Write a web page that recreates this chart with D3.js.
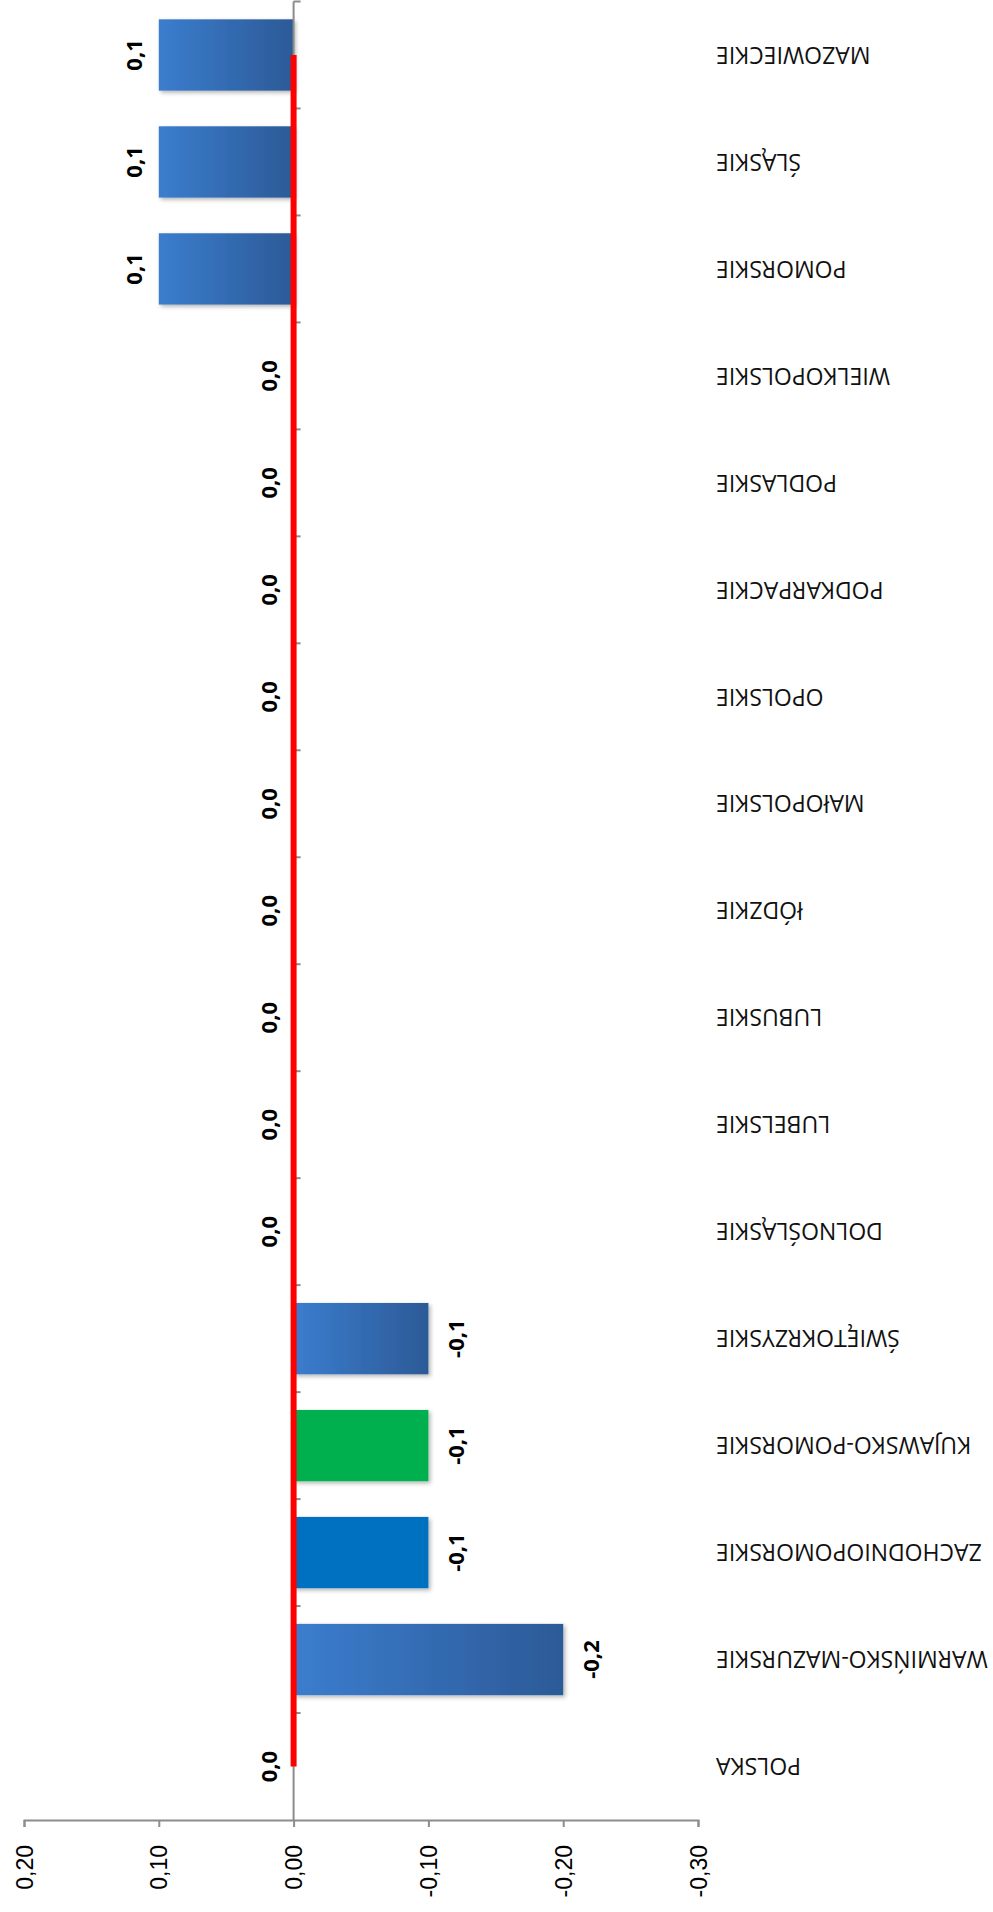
<!DOCTYPE html>
<html>
<head>
<meta charset="utf-8">
<script src="https://cdn.jsdelivr.net/npm/d3@7"></script>
<style>
  html, body { margin: 0; padding: 0; background: #fff; }
  svg { display: block; }
</style>
</head>
<body>
<script>
// ---- data ----
const categories = ["POLSKA","WARMIŃSKO-MAZURSKIE","ZACHODNIOPOMORSKIE","KUJAWSKO-POMORSKIE","ŚWIĘTOKRZYSKIE","DOLNOŚLĄSKIE","LUBELSKIE","LUBUSKIE","łÓDZKIE","MAłOPOLSKIE","OPOLSKIE","PODKARPACKIE","PODLASKIE","WIELKOPOLSKIE","POMORSKIE","ŚLĄSKIE","MAZOWIECKIE"];
const values = [0.0, -0.2, -0.1, -0.1, -0.1, 0.0, 0.0, 0.0, 0.0, 0.0, 0.0, 0.0, 0.0, 0.0, 0.1, 0.1, 0.1];
const polskaLine = [0,0,0,0,0,0,0,0,0,0,0,0,0,0,0,0,0];
const tickValues = [0.20, 0.10, 0.00, -0.10, -0.20, -0.30];

// ---- style ----
const W = 993, H = 1912;
const solidFill = { "ZACHODNIOPOMORSKIE": "#0070C0", "KUJAWSKO-POMORSKIE": "#00B050" };
const axisColor = "#8c8c8c";

const locale = d3.formatLocale({decimal: ",", thousands: " ", grouping: [3], currency: ["", ""], minus: "-"});
const fmtTick = locale.format(".2f");
const fmtLabel = locale.format(".1f");

const svg = d3.select("body").append("svg").attr("width", W).attr("height", H);
const defs = svg.append("defs");
const grad = defs.append("linearGradient").attr("id", "barGrad").attr("x1", "0").attr("x2", "1").attr("y1", "0").attr("y2", "0");
grad.append("stop").attr("offset", "0%").attr("stop-color", "#3B7DCE");
grad.append("stop").attr("offset", "100%").attr("stop-color", "#2C5A97");
const filt = defs.append("filter").attr("id", "shadow").attr("x", "-10%").attr("y", "-20%").attr("width", "120%").attr("height", "140%");
filt.append("feDropShadow").attr("dx", 2).attr("dy", 2).attr("stdDeviation", 2).attr("flood-color", "#000").attr("flood-opacity", 0.3);

const x = d3.scaleLinear().domain([0.2, -0.3]).range([24, 698]);
const y = d3.scaleBand().domain(categories).range([1820, 1.5]).paddingInner(1/3).paddingOuter(1/6);
const yb = d3.scaleBand().domain(categories).range([1820, 1.5]); // full bands for ticks/labels
const axisY = 1820;

const data = categories.map((c, i) => ({cat: c, v: values[i], line: polskaLine[i]}));

// bars
svg.append("g").selectAll("rect").data(data.filter(d => d.v !== 0)).join("rect")
  .attr("x", d => Math.min(x(d.v), x(0)))
  .attr("y", d => y(d.cat))
  .attr("width", d => Math.abs(x(d.v) - x(0)))
  .attr("height", y.bandwidth())
  .attr("fill", d => solidFill[d.cat] || "url(#barGrad)")
  .attr("filter", "url(#shadow)");

// value axis (bottom)
const xAxis = d3.axisBottom(x).tickValues(tickValues).tickFormat(fmtTick).tickSize(7).tickSizeOuter(7);
const gx = svg.append("g").attr("transform", `translate(0,${axisY})`).call(xAxis);
gx.select(".domain").attr("stroke", axisColor).attr("stroke-width", 2);
gx.selectAll(".tick line").attr("stroke", axisColor).attr("stroke-width", 2);
gx.selectAll(".tick text")
  .attr("x", null).attr("y", null).attr("dy", null)
  .attr("transform", "translate(8,25) rotate(-90)")
  .attr("text-anchor", "end")
  .attr("fill", "#000")
  .style("font-family", "'Liberation Sans', Arial, sans-serif")
  .style("font-size", "23px");

// category axis (vertical at zero)
const gy = svg.append("g");
gy.append("line")
  .attr("x1", x(0)).attr("x2", x(0))
  .attr("y1", yb.range()[1]).attr("y2", axisY)
  .attr("stroke", axisColor).attr("stroke-width", 2);
const boundaries = categories.map(c => yb(c)); // top edge of each full band
gy.selectAll("line.ctick").data(boundaries).join("line")
  .attr("class", "ctick")
  .attr("x1", x(0)).attr("x2", x(0) + 7)
  .attr("y1", d => d).attr("y2", d => d)
  .attr("stroke", axisColor).attr("stroke-width", 2);

// category labels (upside-down)
svg.append("g").selectAll("text").data(categories).join("text")
  .attr("transform", c => `translate(716,${yb(c) + yb.bandwidth() / 2}) rotate(180)`)
  .attr("text-anchor", "end")
  .attr("dy", "0.36em")
  .attr("fill", "#111")
  .style("font-family", "'Open Sans', sans-serif")
  .style("font-size", "23px")
  .text(c => c);

// red reference line (POLSKA)
const line = d3.line().x(d => x(d.line)).y(d => yb(d.cat) + yb.bandwidth() / 2);
svg.append("path").datum(data)
  .attr("d", line)
  .attr("fill", "none")
  .attr("stroke", "#FF0000")
  .attr("stroke-width", 6);

// data labels
svg.append("g").selectAll("text").data(data).join("text")
  .attr("transform", d => {
    const bx = d.v < 0 ? x(d.v) + 36 : x(d.v) - 17;
    return `translate(${bx},${yb(d.cat) + yb.bandwidth() / 2}) rotate(-90)`;
  })
  .attr("text-anchor", "middle")
  .attr("fill", "#000")
  .style("font-family", "'Open Sans', sans-serif")
  .style("font-weight", "bold")
  .style("font-size", "22px")
  .text(d => fmtLabel(d.v));
</script>
</body>
</html>
